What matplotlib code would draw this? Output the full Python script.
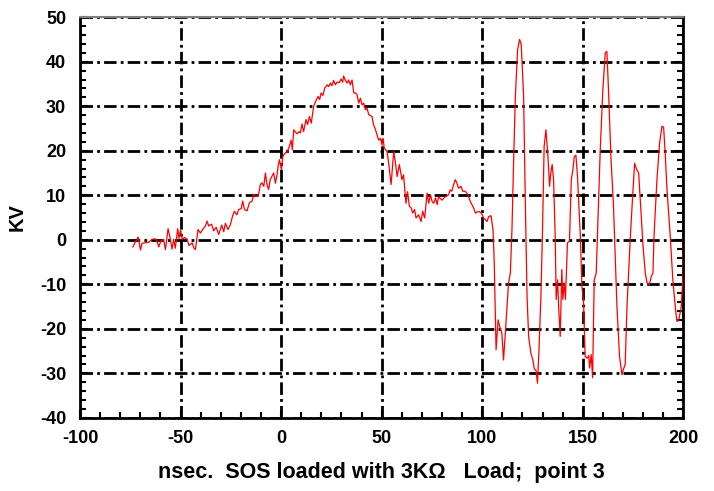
import matplotlib
matplotlib.use("Agg")
import matplotlib.pyplot as plt
from matplotlib.ticker import MultipleLocator

# time (nsec) and voltage (KV)
t = [-73.7, -72.5, -71.1, -69.9, -69.2, -68, -66, -64.1, -62.5, -61.6, -60.8, -59.8,
     -58.4, -57.5, -56.2, -55.2, -54.2, -53.4, -52.6, -51.4, -50.8, -50, -49.2, -48,
     -46.7, -45.8, -44.2, -43.4, -42.6, -41.3, -40.1, -39, -37.6, -36.8, -36, -34.6,
     -33.5, -32.3, -31, -29.5, -28.5, -27.7, -26.4, -25.2, -24.1, -23.2, -22, -21.1,
     -19.8, -19.1, -18.2, -16.9, -15.8, -14.4, -13.6, -12.7, -11.4, -10.3, -9.5, -8.6,
     -7.8, -7, -6.2, -5.4, -4.6, -3.7, -2.8, -2, -1.5, -0.8, 0.2, 0.8, 1.3,
     2.2, 3, 4, 5, 5.6, 6.3, 7.1, 8, 8.9, 9.6, 10.4, 11.2, 12.4, 13.2, 14.1, 15,
     16.2, 17.3, 18.4, 19.2, 19.9, 20.8, 21.7, 22.9, 23.7, 24.5, 25.3, 26.1, 27,
     27.8, 28.9, 29.8, 30.6, 31.1, 31.9, 32.8, 33.6, 34.4, 35.3, 36.1, 36.9, 37.8,
     38.6, 39.4, 40.3, 41.1, 41.9, 42.7, 43.6, 45.2, 46, 46.9, 47.7, 48.5, 49.4,
     50.2, 50.7, 51.3, 52.7, 53.5, 54.7, 56, 56.9, 57.7, 58.8, 60.1, 60.9, 62.1,
     62.9, 63.8, 64.8, 65.4, 66.4, 67.1, 68.4, 69.6, 70.4, 71.4, 72.6, 73.4, 74.3,
     75.1, 75.9, 76.8, 77.6, 78.3, 80, 81.7, 83.3, 84.1, 84.9, 85.8, 86.6, 87.4,
     88.2, 89.5, 90.3, 91.6, 92.9, 94.1, 95.8, 96.6, 98.3, 99.6, 100.7, 102.4,
     103.2, 104.4, 105.4, 106, 106.9, 107.9, 109, 109.8, 110.6, 111.4, 113.1, 114,
     114.8, 115.6, 116.5, 117.6, 118.6, 119.4, 120.6, 121.4, 122.3, 123.1, 124.2,
     125.2, 125.9, 126.8, 127.5, 128.3, 129.2, 130, 130.8, 131.7, 132.7, 133.5,
     134.1, 134.8, 135.5, 136.3, 136.8, 137.5, 138, 138.8, 139.6, 140.1, 140.8,
     141.4, 142.4, 143.4, 144.3, 145.1, 145.8, 146.6, 147.4, 148.8, 149.6, 150.4,
     151.2, 152.1, 153, 153.4, 154.2, 154.9, 155.7, 156.7, 157.8, 158.7, 160, 161.2,
     162, 162.8, 164, 165.3, 167, 168.3, 169.5, 170.3, 171.1, 172, 172.8, 173.6,
     175, 175.8, 176.6, 177.8, 178.6, 180, 181.1, 182, 183.1, 184.1, 184.9, 185.5,
     186.9, 188.2, 189.4, 190.2, 191, 191.8, 192.7, 193.5, 194.8, 196, 196.8,
     197.7, 199, 199.9, 200]
kv = [-1.6, -0.5, 0.6, -2.3, -0.8, -0.7, -0.6, 0.1, 0.2, -0.5, -1.6, -0.3,
      0.1, -2.2, 2.5, 0.5, -2.1, 0.1, -1.9, 2.5, 0.3, 2.2, 0.1, 0.5,
      0.1, -1.3, -0.7, -1.8, -2.2, 2.3, 1.5, 2.3, 3.1, 4.2, 3.1, 3.5,
      2, 2.8, 1.2, 3.3, 1.8, 3.7, 2.3, 3.4, 5.4, 6.4, 5.6, 6.8,
      7, 8.7, 6.8, 6.5, 8.3, 8.7, 10.2, 9.8, 9.7, 12.4, 12.8, 12,
      15, 12.4, 11.3, 13.5, 14.2, 15, 12.7, 14.6, 16.5, 18, 15.7, 18.6, 19.1,
      19.5, 19.8, 20.8, 22.4, 20.2, 24.7, 24.2, 23.8, 24.3, 24, 26, 24.3, 27, 25.9, 27.7, 26.2,
      30, 31.2, 32.2, 31.5, 33, 32.4, 34.1, 34.8, 34.4, 35.2, 34.6, 35.8, 34.8,
      35.4, 35.3, 36.1, 35.4, 36.8, 35.9, 35.2, 35.9, 34.8, 35.9, 33, 33, 32.6,
      30.7, 31.8, 30.3, 30.7, 29.2, 29.6, 28.1, 27.7, 25.8, 24.8, 23.6, 22.4, 22.8,
      21.3, 22.8, 20.6, 19.8, 17.2, 12.4, 19.8, 17.2, 14.2, 16.9, 13.5, 14.6, 8.2,
      10.8, 7.5, 7.1, 6, 6.8, 4.9, 5.6, 4.1, 6.4, 4.9, 10.5, 8.2, 10.1,
      8.6, 8.2, 9.4, 7.9, 9.7, 8.9, 9.7, 10.1, 11.2, 10.9, 12.4, 13.5, 12.8,
      11.6, 12, 10.9, 10.9, 10.1, 8.6, 7.1, 6, 6.4, 6, 4.9, 4.1,
      5.2, 5.4, 2.2, -5.2, -24.7, -18, -20, -21, -27, -21.7, -9.7, -7.5,
      2.2, 17.2, 32.2, 42.7, 45, 44, 32.2, 9.7, -12.7, -21.7, -25.5,
      -27, -29, -29.4, -32.2, -24, -12.7, 2.2, 21, 24.7, 18.7, 12,
      15, 16.9, 13.5, 0.8, -13.4, -9, -15, -21.7, -6.7, -13.4, -9.7,
      -13.4, -0.7, -0.3, 13.5, 15.7, 18.7, 19, 14.2, 0.8, -10.5, -14,
      -26.2, -26.6, -26, -28.8, -25.8, -31, -9, -7.5, 7.5, 20.2, 33.7, 42,
      42.3, 33.7, 18.7, 7.5, -15, -26.2, -30.3, -29, -28, -15, -7.5, 0.1,
      11.3, 17.2, 16, 15, 9, -1.5, -7.5, -9.7, -10.1, -8.2, -7.5, 1.5,
      13.5, 21.7, 25.5, 25.3, 19.5, 12, 6, 0.8, -9, -15, -18.3,
      -18.2, -15, -7.5, -1]

plt.rcParams['font.family'] = ['Liberation Sans', 'DejaVu Sans']
plt.rcParams['font.weight'] = 'bold'
plt.rcParams['lines.scale_dashes'] = False
plt.rcParams['axes.unicode_minus'] = False

fig = plt.figure(figsize=(7.14, 4.91), dpi=100)
ax = fig.add_axes([0.112, 0.149, 0.845, 0.816])

ax.plot(t, kv, color="red", lw=0.9, zorder=3)

ax.set_xlim(-100, 200)
ax.set_ylim(-40, 50)
ax.xaxis.set_major_locator(MultipleLocator(50))
ax.xaxis.set_minor_locator(MultipleLocator(10))
ax.yaxis.set_major_locator(MultipleLocator(10))
ax.yaxis.set_minor_locator(MultipleLocator(2))

ax.grid(True, which="major", color="black", lw=2, linestyle=(0, (9, 3, 2, 3)))
ax.tick_params(which="both", direction="in", right=True, labelsize=13, width=1.5)
ax.tick_params(which="major", length=6)
ax.tick_params(which="minor", length=4)
ax.tick_params(axis="y", pad=10)
ax.tick_params(axis="x", pad=9)

for s in ["left", "bottom", "right"]:
    ax.spines[s].set_linewidth(2)
ax.spines["top"].set_color("gray")
ax.spines["top"].set_linewidth(1.5)

ax.set_ylabel("KV", fontsize=14.5, fontweight="bold")
ax.yaxis.set_label_coords(-0.088, 0.5)
ax.set_xlabel("nsec.  SOS loaded with 3KΩ   Load;  point 3", fontsize=15.5,
              fontweight="bold")
ax.xaxis.set_label_coords(0.5, -0.11)

fig.savefig("out.png", dpi=100)
